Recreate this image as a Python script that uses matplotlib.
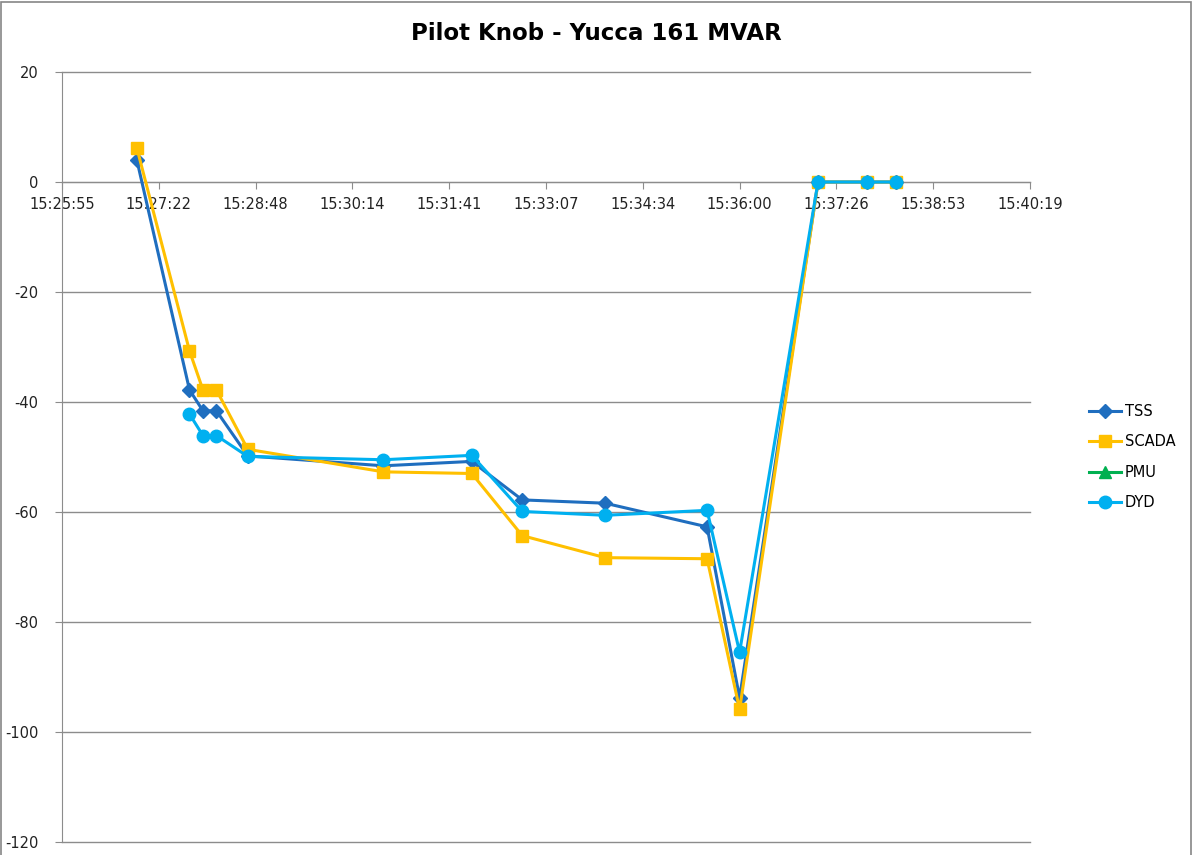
import matplotlib.pyplot as plt
from matplotlib.patches import Rectangle
from matplotlib.ticker import FixedLocator, FuncFormatter

plt.rcParams['font.family'] = ['DejaVu Sans']
plt.rcParams['axes.unicode_minus'] = False

# sample times (hh:mm:ss) and MVAR readings
tss_times = ["15:27:02", "15:27:49", "15:28:01", "15:28:13", "15:28:41", "15:30:42",
             "15:32:01", "15:32:46", "15:34:00", "15:35:31", "15:36:00", "15:37:10",
             "15:37:54", "15:38:20"]
tss_vals = [4.0, -37.8, -41.6, -41.6, -49.8, -51.6, -50.8, -57.8, -58.4, -62.7,
            -93.8, 0.0, 0.0, 0.0]

scada_times = tss_times
scada_vals = [6.2, -30.7, -37.8, -37.8, -48.6, -52.7, -53.0, -64.3, -68.3, -68.5,
              -95.9, 0.0, 0.0, 0.0]

pmu_times = []
pmu_vals = []

dyd_times = ["15:27:49", "15:28:01", "15:28:13", "15:28:41", "15:30:42", "15:32:01",
             "15:32:46", "15:34:00", "15:35:31", "15:36:00", "15:37:10", "15:37:54",
             "15:38:20"]
dyd_vals = [-42.2, -46.1, -46.1, -49.9, -50.5, -49.7, -59.9, -60.6, -59.7, -85.5,
            0.0, 0.0, 0.0]


def to_day(t):
    h, m, s = (int(p) for p in t.split(":"))
    return (h * 3600 + m * 60 + s) / 86400.0


def day_label(d, pos=None):
    secs = int(round(d * 86400))
    return f"{secs // 3600}:{secs % 3600 // 60:02d}:{secs % 60:02d}"


fig = plt.figure(figsize=(11.93, 8.55), dpi=100)
ax = fig.add_axes([62 / 1193, 1 - 842 / 855, 968 / 1193, 770 / 855])

series = [
    ("TSS", tss_times, tss_vals, "#1F6EBF", "D", 7),
    ("SCADA", scada_times, scada_vals, "#FFC000", "s", 9),
    ("PMU", pmu_times, pmu_vals, "#00B050", "^", 9),
    ("DYD", dyd_times, dyd_vals, "#00B0F0", "o", 9),
]
for name, times, vals, color, marker, ms in series:
    ax.plot([to_day(t) for t in times], vals, color=color, lw=2.2,
            marker=marker, markersize=ms, label=name, zorder=3)

ax.set_xlim(0.643, 0.653)
ax.set_ylim(-120, 20)

ax.xaxis.set_major_locator(FixedLocator([0.643 + 0.001 * k for k in range(11)]))
ax.xaxis.set_major_formatter(FuncFormatter(day_label))
ax.set_yticks(range(-120, 21, 20))

ax.grid(axis='y', color='#8C8C8C', lw=1)
ax.set_axisbelow(True)
for gl in ax.get_ygridlines():
    gl.set_clip_on(False)

for side in ('top', 'right'):
    ax.spines[side].set_visible(False)
ax.spines['bottom'].set_position(('data', 0))
ax.spines['bottom'].set_color('#8C8C8C')
ax.spines['left'].set_color('#8C8C8C')
ax.tick_params(axis='x', direction='out', length=5, color='#8C8C8C', pad=6,
               labelsize=10.5, labelcolor='#222222')
ax.tick_params(axis='y', direction='out', length=5, color='#8C8C8C', pad=12,
               labelsize=10.5, labelcolor='#222222')

ax.legend(loc='center left', bbox_to_anchor=(1.047, 0.5), frameon=False,
          fontsize=10.5, handlelength=2.2, labelspacing=1.05, handletextpad=0.3)

fig.text(0.5, 1 - 33 / 855, "Pilot Knob - Yucca 161 MVAR", ha='center', va='center',
         fontsize=16.5, fontweight='bold')

fig.patches.append(Rectangle((0.001, -0.01), 0.997, 1.008, transform=fig.transFigure,
                             fill=False, edgecolor='#868686', lw=1.2))

fig.savefig('out.png', dpi=100)
